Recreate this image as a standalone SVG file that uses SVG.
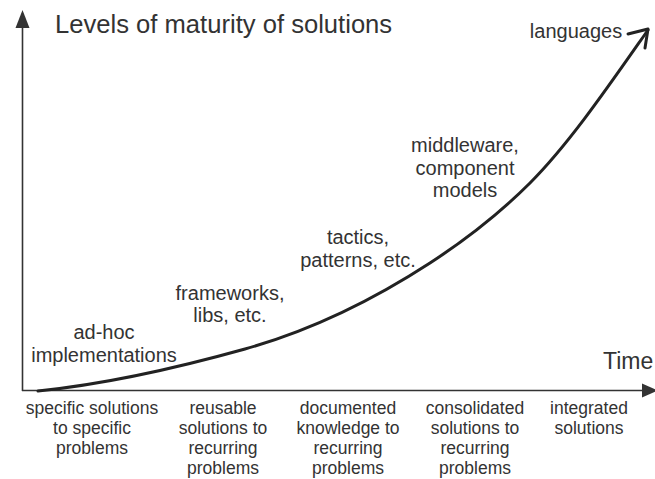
<svg xmlns="http://www.w3.org/2000/svg" width="655" height="479" viewBox="0 0 655 479">
<style>
text{font-family:"Liberation Sans",Arial,sans-serif;fill:#333}
.lbl{font-size:20px;text-anchor:middle}
.bot{font-size:17.5px;text-anchor:middle}
.axis{stroke:#333;stroke-width:1.6;fill:none}
.curve{stroke:#222;stroke-width:3;fill:none;stroke-linecap:round;stroke-linejoin:round}
</style>
<rect width="655" height="479" fill="#fff"/>
<g id="connectors">
<line class="axis" x1="22.5" y1="391" x2="22.5" y2="26"/>
<polygon points="22.5,10 15.5,28 29.5,28" fill="#333"/>
<line class="axis" x1="22" y1="390.5" x2="644" y2="390.5"/>
<polygon points="658,390.5 642,383.5 642,397.5" fill="#333"/>
<path class="curve" d="M38,391 C107,384 176,368.3 245,349 C306.7,331.7 368.3,303.1 430,263 C463.3,241.3 496.7,216.3 530,183 C569.3,143.7 608.7,86 648,30"/>
<polyline class="curve" points="628,34 648,29 645,48"/>
</g>
<g id="title"><text x="55" y="33" style="font-size:25.6px">Levels of maturity of solutions</text></g>
<g id="time"><text x="603" y="369" style="font-size:23px">Time</text></g>
<g id="adhoc"><text class="lbl" x="104" y="339">ad-hoc</text><text class="lbl" x="104" y="362">implementations</text></g>
<g id="frameworks"><text class="lbl" x="230" y="300">frameworks,</text><text class="lbl" x="230" y="322">libs, etc.</text></g>
<g id="tactics"><text class="lbl" x="358" y="244">tactics,</text><text class="lbl" x="358" y="267">patterns, etc.</text></g>
<g id="middleware"><text class="lbl" x="465" y="152">middleware,</text><text class="lbl" x="465" y="175">component</text><text class="lbl" x="465" y="197">models</text></g>
<g id="languages"><text class="lbl" x="576" y="38">languages</text></g>
<g id="col1"><text class="bot" x="92" y="414">specific solutions</text><text class="bot" x="92" y="434">to specific</text><text class="bot" x="92" y="454">problems</text></g>
<g id="col2"><text class="bot" x="223" y="414">reusable</text><text class="bot" x="223" y="434">solutions to</text><text class="bot" x="223" y="454">recurring</text><text class="bot" x="223" y="474">problems</text></g>
<g id="col3"><text class="bot" x="348" y="414">documented</text><text class="bot" x="348" y="434">knowledge to</text><text class="bot" x="348" y="454">recurring</text><text class="bot" x="348" y="474">problems</text></g>
<g id="col4"><text class="bot" x="475" y="414">consolidated</text><text class="bot" x="475" y="434">solutions to</text><text class="bot" x="475" y="454">recurring</text><text class="bot" x="475" y="474">problems</text></g>
<g id="col5"><text class="bot" x="589" y="414">integrated</text><text class="bot" x="589" y="434">solutions</text></g>
</svg>
